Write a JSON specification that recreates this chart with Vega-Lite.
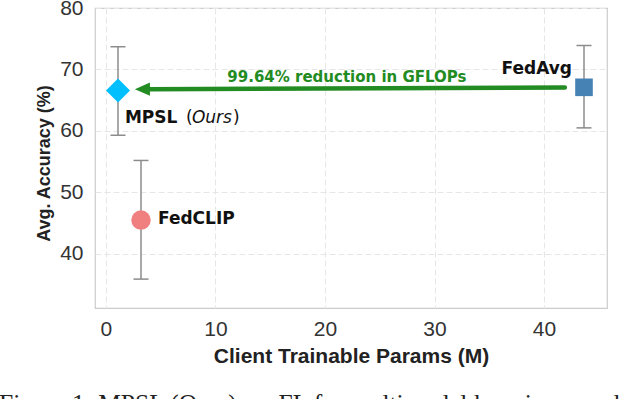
{
  "$schema": "https://vega.github.io/schema/vega-lite/v6.json",
  "autosize": {"type": "none"},
  "width": 512,
  "height": 300,
  "padding": {"left": 95, "top": 8, "right": 33, "bottom": 91},
  "background": "white",
  "config": {
    "view": {"stroke": "#cccccc", "strokeWidth": 1.2},
    "axis": {
      "domain": false,
      "ticks": false,
      "grid": true,
      "gridColor": "#e6e6e6",
      "gridDash": [6, 3],
      "gridWidth": 1,
      "labelFont": "Liberation Sans",
      "labelFontSize": 21,
      "labelColor": "#333333",
      "titleFont": "Liberation Sans",
      "titleFontWeight": "bold",
      "titleColor": "#222222"
    }
  },
  "title": {
    "text": "Figure 1: MPSL (Ours) vs. FL for multimodal learning on edge",
    "orient": "bottom",
    "anchor": "start",
    "frame": "group",
    "dx": -96,
    "offset": 26,
    "baseline": "top",
    "font": "Liberation Serif",
    "fontSize": 25.5,
    "fontWeight": "normal",
    "color": "#222222"
  },
  "datasets": {
    "methods": [
      {"method": "MPSL", "params": 1.1, "acc": 66.6, "lo": 59.3, "hi": 73.7, "color": "#00BFFF", "shape": "diamond", "size": 576},
      {"method": "FedCLIP", "params": 3.2, "acc": 45.5, "lo": 35.9, "hi": 55.2, "color": "#F08080", "shape": "circle", "size": 380},
      {"method": "FedAvg", "params": 43.65, "acc": 67.1, "lo": 60.5, "hi": 73.9, "color": "#4682B4", "shape": "square", "size": 310}
    ],
    "arrow": [
      {"params": 41.9, "acc": 67.05},
      {"params": 3.9, "acc": 66.8}
    ],
    "head": [
      {"params": 3.33, "acc": 66.8}
    ],
    "labels": [
      {"params": 22.0, "acc": 67.97, "text": "99.64% reduction in GFLOPs"}
    ],
    "fedavg": [
      {"params": 42.55, "acc": 69.2, "text": "FedAvg"}
    ],
    "fedclip": [
      {"params": 4.75, "acc": 44.88, "text": "FedCLIP"}
    ],
    "mpsl": [
      {"params": 1.73, "acc": 61.3}
    ]
  },
  "encoding": {
    "x": {
      "field": "params",
      "type": "quantitative",
      "scale": {"domain": [-1, 45.75], "nice": false, "zero": false},
      "axis": {"values": [0, 10, 20, 30, 40], "title": "Client Trainable Params (M)", "titleFontSize": 21, "labelPadding": 10, "titlePadding": 6}
    },
    "y": {
      "field": "acc",
      "type": "quantitative",
      "scale": {"domain": [31.2, 80], "nice": false, "zero": false},
      "axis": {"values": [40, 50, 60, 70, 80], "title": "Avg. Accuracy (%)", "titleFontSize": 18, "titleY": 155, "labelPadding": 12, "titlePadding": 6}
    }
  },
  "layer": [
    {
      "data": {"name": "methods"},
      "mark": {"type": "rule", "color": "#8c8c8c", "strokeWidth": 1.5},
      "encoding": {"y": {"field": "lo", "type": "quantitative"}, "y2": {"field": "hi"}}
    },
    {
      "data": {"name": "methods"},
      "mark": {"type": "tick", "orient": "horizontal", "color": "#8c8c8c", "size": 15, "thickness": 1.5, "opacity": 1},
      "encoding": {"y": {"field": "lo", "type": "quantitative"}}
    },
    {
      "data": {"name": "methods"},
      "mark": {"type": "tick", "orient": "horizontal", "color": "#8c8c8c", "size": 15, "thickness": 1.5, "opacity": 1},
      "encoding": {"y": {"field": "hi", "type": "quantitative"}}
    },
    {
      "data": {"name": "arrow"},
      "mark": {"type": "line", "color": "#228B22", "strokeWidth": 4.5, "strokeCap": "round"},
      "encoding": {"order": {"field": "params", "type": "quantitative"}}
    },
    {
      "data": {"name": "head"},
      "mark": {"type": "point", "shape": "M-1,0L1,-0.87L1,0.87Z", "filled": true, "color": "#228B22", "size": 225, "opacity": 1},
      "encoding": {}
    },
    {
      "data": {"name": "methods"},
      "mark": {"type": "point", "filled": true, "opacity": 1},
      "encoding": {
        "color": {"field": "color", "type": "nominal", "scale": null},
        "shape": {"field": "shape", "type": "nominal", "scale": null},
        "size": {"field": "size", "type": "quantitative", "scale": null}
      }
    },
    {
      "data": {"name": "labels"},
      "mark": {"type": "text", "font": "DejaVu Sans", "fontWeight": "bold", "fontSize": 15, "color": "#228B22", "align": "center", "baseline": "alphabetic"},
      "encoding": {"text": {"field": "text"}}
    },
    {
      "data": {"name": "fedavg"},
      "mark": {"type": "text", "font": "DejaVu Sans", "fontWeight": "bold", "fontSize": 17, "color": "#111111", "align": "right", "baseline": "alphabetic"},
      "encoding": {"text": {"field": "text"}}
    },
    {
      "data": {"name": "fedclip"},
      "mark": {"type": "text", "font": "DejaVu Sans", "fontWeight": "bold", "fontSize": 17, "color": "#111111", "align": "left", "baseline": "alphabetic"},
      "encoding": {"text": {"field": "text"}}
    },
    {
      "data": {"name": "mpsl"},
      "mark": {"type": "text", "font": "DejaVu Sans", "fontWeight": "bold", "fontSize": 17, "color": "#111111", "align": "left", "baseline": "alphabetic", "text": "MPSL"},
      "encoding": {}
    },
    {
      "data": {"name": "mpsl"},
      "mark": {"type": "text", "font": "DejaVu Sans", "fontSize": 17, "color": "#111111", "align": "left", "baseline": "alphabetic", "text": "(", "dx": 61},
      "encoding": {}
    },
    {
      "data": {"name": "mpsl"},
      "mark": {"type": "text", "font": "DejaVu Sans", "fontStyle": "italic", "fontSize": 17, "color": "#111111", "align": "left", "baseline": "alphabetic", "text": "Ours", "dx": 67},
      "encoding": {}
    },
    {
      "data": {"name": "mpsl"},
      "mark": {"type": "text", "font": "DejaVu Sans", "fontSize": 17, "color": "#111111", "align": "left", "baseline": "alphabetic", "text": ")", "dx": 108},
      "encoding": {}
    }
  ]
}
